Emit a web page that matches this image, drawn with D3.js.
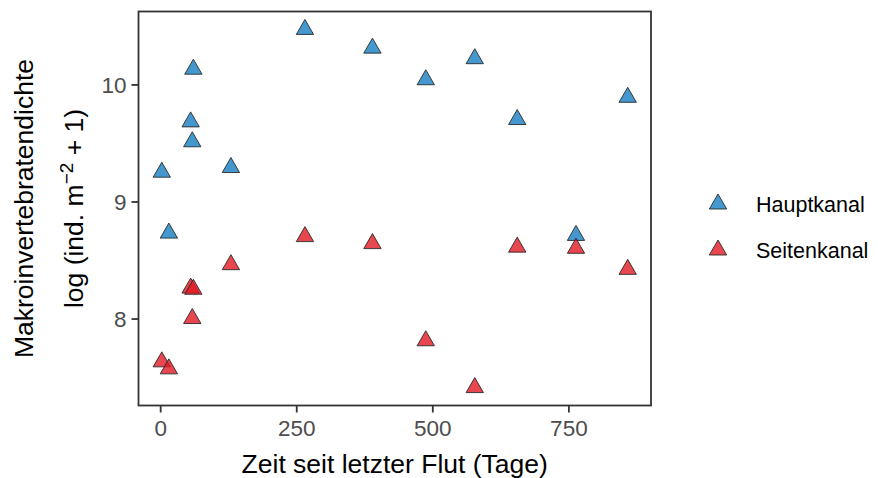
<!DOCTYPE html>
<html>
<head>
<meta charset="utf-8">
<script src="https://cdn.jsdelivr.net/npm/d3@7"></script>
<style>
  body { margin: 0; background: #fff; }
  text { font-family: "Liberation Sans", Arial, sans-serif; }
</style>
</head>
<body>
<div id="chart"></div>
<script>
// data
var days = [3, 16, 56, 59, 61, 130, 266, 390, 488, 578, 656, 764, 859];
var haupt = [9.25, 8.73, 9.68, 9.51, 10.13, 9.29, 10.47, 10.31, 10.04, 10.22, 9.70, 8.71, 9.89];
var seiten = [7.63, 7.57, 8.26, 8.00, 8.25, 8.46, 8.70, 8.64, 7.81, 7.41, 8.61, 8.60, 8.42];
var groups = ["Hauptkanal", "Seitenkanal"];
var colors = ["#157ec2", "#e21923"];
var xTicks = [0, 250, 500, 750];
var yTicks = [8, 9, 10];

var width = 878, height = 478;
var panelL = 138.5, panelR = 651, panelT = 11.5, panelB = 405.5;

var svg = d3.select("#chart").append("svg")
  .attr("width", width)
  .attr("height", height);

// ggplot style 5% expansion
function expand(ext) {
  var pad = (ext[1] - ext[0]) * 0.05;
  return [ext[0] - pad, ext[1] + pad];
}

var x = d3.scaleLinear()
  .domain(expand(d3.extent(days)))
  .range([panelL, panelR]);
var y = d3.scaleLinear()
  .domain(expand(d3.extent(haupt.concat(seiten))))
  .range([panelB, panelT]);

var points = [];
days.forEach(function(d, i) { points.push({x: d, y: haupt[i], g: 0}); });
days.forEach(function(d, i) { points.push({x: d, y: seiten[i], g: 1}); });

var tri = d3.symbol().type(d3.symbolTriangle).size(130);

// axes
var xAxis = svg.append("g")
  .attr("transform", "translate(0," + panelB + ")")
  .call(d3.axisBottom(x).tickValues(xTicks).tickSize(7).tickPadding(5));
var yAxis = svg.append("g")
  .attr("transform", "translate(" + panelL + ",0)")
  .call(d3.axisLeft(y).tickValues(yTicks).tickSize(7).tickPadding(5).tickFormat(d3.format("d")));

[xAxis, yAxis].forEach(function(a) {
  a.select(".domain").remove();
  a.selectAll(".tick line").attr("stroke", "#333").attr("stroke-width", 1.8);
  a.selectAll(".tick text")
    .attr("fill", "#4d4d4d")
    .style("font-size", "22.5px");
});
xAxis.selectAll(".tick text").attr("dy", "0.8em");
yAxis.selectAll(".tick text").attr("dy", "0.36em");

// panel border
svg.append("rect")
  .attr("x", panelL).attr("y", panelT)
  .attr("width", panelR - panelL).attr("height", panelB - panelT)
  .attr("fill", "none")
  .attr("stroke", "#333")
  .attr("stroke-width", 1.8);

// points
svg.append("g")
  .selectAll("path")
  .data(points)
  .enter()
  .append("path")
    .attr("d", tri)
    .attr("transform", function(d) { return "translate(" + x(d.x) + "," + y(d.y) + ")"; })
    .attr("fill", function(d) { return colors[d.g]; })
    .attr("fill-opacity", 0.8)
    .attr("stroke", "#222")
    .attr("stroke-opacity", 0.85)
    .attr("stroke-width", 1);

// axis titles
svg.append("text")
  .attr("x", (panelL + panelR) / 2)
  .attr("y", 473)
  .attr("text-anchor", "middle")
  .style("font-size", "26.5px")
  .text("Zeit seit letzter Flut (Tage)");

var cy = (panelT + panelB) / 2;
svg.append("text")
  .attr("transform", "translate(33," + cy + ") rotate(-90)")
  .attr("text-anchor", "middle")
  .style("font-size", "26.5px")
  .text("Makroinvertebratendichte");

var t2 = svg.append("text")
  .attr("transform", "translate(83," + cy + ") rotate(-90)")
  .attr("text-anchor", "middle")
  .style("font-size", "26.5px");
t2.append("tspan").text("log (ind. m");
t2.append("tspan").attr("dy", -10).style("font-size", "19px").text("\u22122");
t2.append("tspan").attr("dy", 10).text(" + 1)");

// legend
var legend = svg.append("g")
  .selectAll("g")
  .data(groups)
  .enter()
  .append("g")
    .attr("transform", function(d, i) { return "translate(718," + (204 + i * 46) + ")"; });
legend.append("path")
  .attr("d", tri)
  .attr("fill", function(d, i) { return colors[i]; })
  .attr("fill-opacity", 0.8)
  .attr("stroke", "#222")
  .attr("stroke-opacity", 0.85)
  .attr("stroke-width", 1);
legend.append("text")
  .attr("x", 38)
  .attr("dy", "0.36em")
  .style("font-size", "21.5px")
  .text(function(d) { return d; });
</script>
</body>
</html>
